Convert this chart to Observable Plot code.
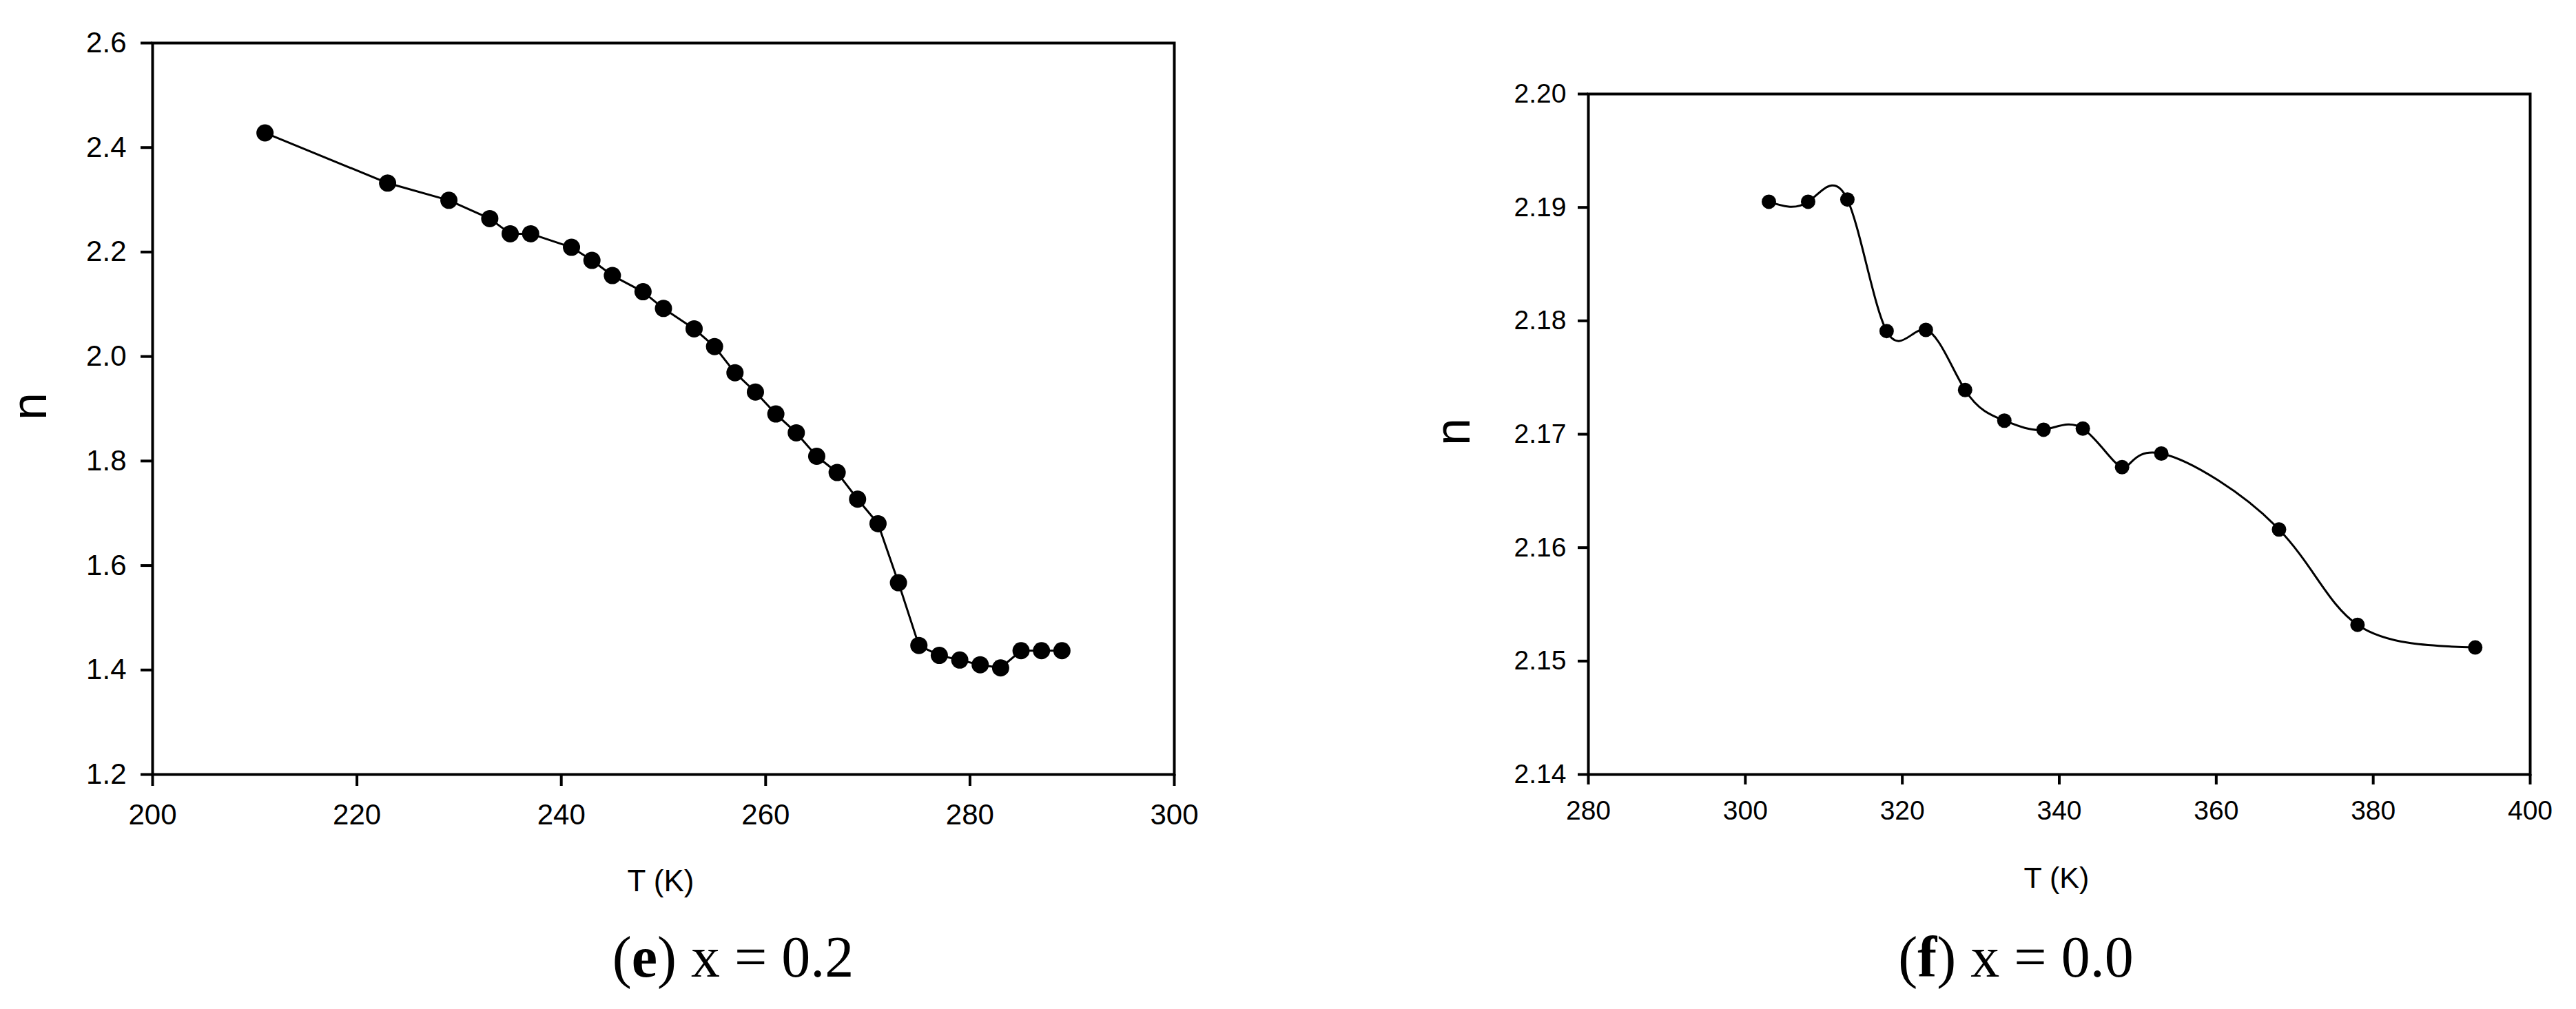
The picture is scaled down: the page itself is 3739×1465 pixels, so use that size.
<!DOCTYPE html>
<html>
<head>
<meta charset="utf-8">
<script src="https://cdn.jsdelivr.net/npm/d3@7"></script>
<script src="https://cdn.jsdelivr.net/npm/@observablehq/plot@0.6"></script>
<style>
  html, body { margin: 0; padding: 0; background: #fff; }
  #page { position: relative; width: 3739px; height: 1465px; background: #fff; overflow: hidden; }
  .plot { position: absolute; top: 0; }
  .lbl { position: absolute; color: #000; white-space: nowrap; line-height: 1; }
  .sans { font-family: 'Liberation Sans', Arial, sans-serif; }
  .serif { font-family: 'Liberation Serif', 'Times New Roman', serif; }
</style>
</head>
<body>
<div id="page">
  <div id="plotE" class="plot" style="left:0px"></div>
  <div id="plotF" class="plot" style="left:1900px"></div>
  <div class="lbl sans" style="left:959px; top:1257px; font-size:44px; transform:translateX(-50%)">T (K)</div>
  <div class="lbl sans" style="left:2985px; top:1253px; font-size:43px; transform:translateX(-50%)">T (K)</div>
  <div class="lbl sans" style="left:42px; top:590px; font-size:72px; transform:translate(-50%,-50%) rotate(-90deg)">n</div>
  <div class="lbl sans" style="left:2108px; top:627px; font-size:72px; transform:translate(-50%,-50%) rotate(-90deg)">n</div>
  <div class="lbl serif" style="left:1064px; top:1348px; font-size:84px; transform:translateX(-50%)">(<b>e</b>) x = 0.2</div>
  <div class="lbl serif" style="left:2926px; top:1348px; font-size:84px; transform:translateX(-50%)">(<b>f</b>) x = 0.0</div>
</div>
<script>
// ---- Panel (e): x = 0.2 ----
const tempE = [211,223,229,233,235,237,241,243,245,248,250,253,255,257,259,261,263,265,267,269,271,273,275,277,279,281,283,285,287,289];
const nE = [2.428,2.332,2.299,2.264,2.235,2.235,2.209,2.184,2.155,2.124,2.092,2.053,2.019,1.969,1.932,1.890,1.854,1.809,1.778,1.727,1.680,1.567,1.447,1.428,1.419,1.410,1.404,1.437,1.437,1.437];
const xTicksE = [200,220,240,260,280,300];
const yTicksE = [1.2,1.4,1.6,1.8,2.0,2.2,2.4,2.6];

// ---- Panel (f): x = 0.0 ----
const tempF = [303,308,313,318,323,328,333,338,343,348,353,368,378,393];
const nF = [2.1905,2.1905,2.1907,2.1791,2.1792,2.1739,2.1712,2.1704,2.1705,2.1671,2.1683,2.1616,2.1532,2.1512];
const xTicksF = [280,300,320,340,360,380,400];
const yTicksF = [2.14,2.15,2.16,2.17,2.18,2.19,2.20];

const dataE = tempE.map((T, i) => ({T, n: nE[i]}));
const dataF = tempF.map((T, i) => ({T, n: nF[i]}));

const plotE = Plot.plot({
  width: 1800, height: 1250,
  marginLeft: 221, marginRight: 96, marginTop: 62, marginBottom: 126,
  x: {domain: [200, 300]},
  y: {domain: [1.2, 2.6]},
  style: {fontFamily: "'Liberation Sans', Arial, sans-serif", fontSize: "42px", color: "black", background: "transparent", overflow: "visible"},
  marks: [
    Plot.axisX(xTicksE, {tickSize: 17, tickPadding: 26, strokeWidth: 4, label: null, tickFormat: d => String(d)}),
    Plot.axisY(yTicksE, {tickSize: 17, tickPadding: 21, strokeWidth: 4, label: null, tickFormat: d => d.toFixed(1)}),
    Plot.frame({stroke: "black", strokeWidth: 4}),
    Plot.line(dataE, {x: "T", y: "n", stroke: "black", strokeWidth: 3}),
    Plot.dot(dataE, {x: "T", y: "n", r: 12.5, fill: "black", stroke: "none"})
  ]
});
document.getElementById("plotE").append(plotE);

const plotF = Plot.plot({
  width: 1839, height: 1250,
  marginLeft: 405, marginRight: 67, marginTop: 136, marginBottom: 126,
  x: {domain: [280, 400]},
  y: {domain: [2.14, 2.20]},
  style: {fontFamily: "'Liberation Sans', Arial, sans-serif", fontSize: "39px", color: "black", background: "transparent", overflow: "visible"},
  marks: [
    Plot.axisX(xTicksF, {tickSize: 15, tickPadding: 23, strokeWidth: 4, label: null, tickFormat: d => String(d)}),
    Plot.axisY(yTicksF, {tickSize: 15, tickPadding: 17, strokeWidth: 4, label: null, tickFormat: d => d.toFixed(2)}),
    Plot.frame({stroke: "black", strokeWidth: 4}),
    Plot.line(dataF, {x: "T", y: "n", stroke: "black", strokeWidth: 3, curve: "natural"}),
    Plot.dot(dataF, {x: "T", y: "n", r: 10.5, fill: "black", stroke: "none"})
  ]
});
document.getElementById("plotF").append(plotF);
</script>
</body>
</html>
